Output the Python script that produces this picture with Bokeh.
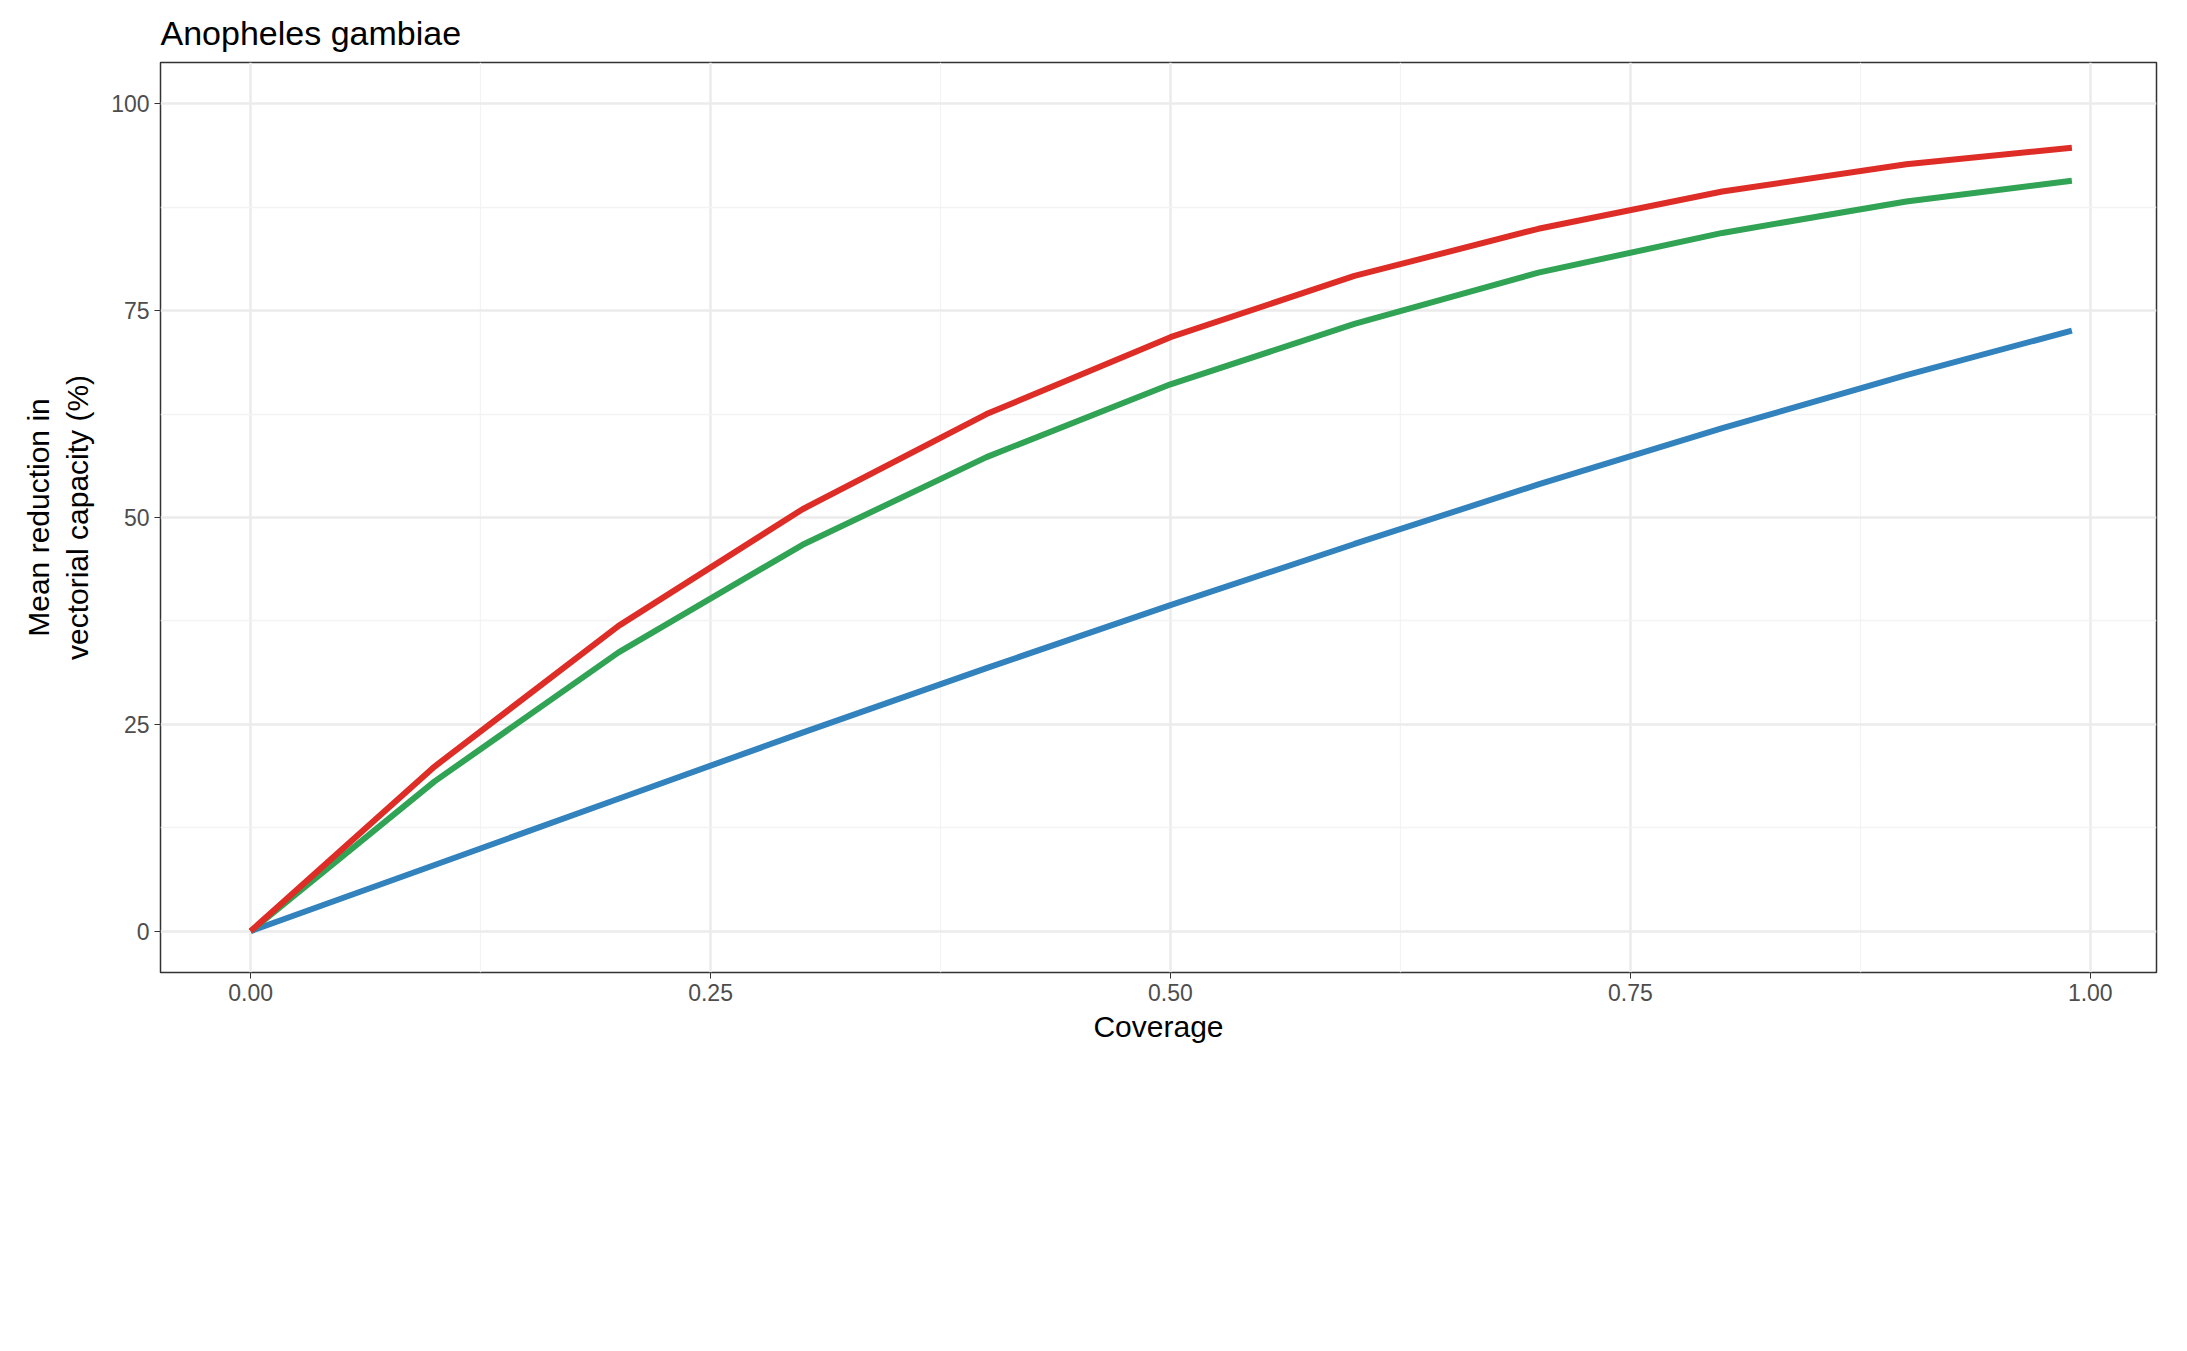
from bokeh.plotting import figure
from bokeh.models import Legend, LegendItem, FixedTicker, Range1d
from bokeh.embed import file_html
from bokeh.resources import INLINE

coverage = [0, 0.1, 0.2, 0.3, 0.4, 0.5, 0.6, 0.7, 0.8, 0.9, 0.99]
house_screening = [0, 8.0, 16.0, 24.0, 31.8, 39.4, 46.8, 54.0, 60.8, 67.2, 72.6]
irs = [0, 18.1, 33.7, 46.7, 57.3, 66.1, 73.4, 79.6, 84.4, 88.2, 90.7]
llins = [0, 19.9, 36.9, 51.0, 62.5, 71.8, 79.2, 84.9, 89.4, 92.7, 94.7]

FONT = "Liberation Sans"

p = figure(frame_width=1996, frame_height=910, output_backend="svg",
           toolbar_location=None, title="Anopheles gambiae",
           x_range=Range1d(-0.049, 1.036), y_range=Range1d(-5, 105),
           min_border_left=160, min_border_right=10, min_border_top=10,
           min_border_bottom=0)
p.title.text_font = FONT
p.title.text_font_size = "34px"
p.title.text_font_style = "normal"
p.title.text_color = "black"
p.title.offset = 0
p.title.standoff = 22

p.outline_line_color = "#333333"
p.outline_line_width = 1.5

p.xaxis.ticker = FixedTicker(ticks=[0, 0.25, 0.5, 0.75, 1.0],
                             minor_ticks=[0.125, 0.375, 0.625, 0.875])
p.yaxis.ticker = FixedTicker(ticks=[0, 25, 50, 75, 100],
                             minor_ticks=[12.5, 37.5, 62.5, 87.5])
p.xaxis.major_label_overrides = {0: "0.00", 0.25: "0.25", 0.5: "0.50", 0.75: "0.75", 1.0: "1.00"}
for ax in (p.xaxis, p.yaxis):
    ax.axis_line_color = None
    ax.major_tick_line_color = "#333333"
    ax.minor_tick_line_color = None
    ax.major_tick_out = 6
    ax.major_tick_in = 0
    ax.major_label_text_font = FONT
    ax.major_label_text_font_size = "23px"
    ax.major_label_text_color = "#4d4d4d"
    ax.axis_label_text_font = FONT
    ax.axis_label_text_font_size = "30px"
    ax.axis_label_text_font_style = "normal"
    ax.axis_label_text_color = "black"
p.xaxis.axis_label = "Coverage"
p.yaxis.axis_label = "Mean reduction in\nvectorial capacity (%)"
p.xaxis.axis_label_standoff = 6
p.yaxis.axis_label_standoff = 14

p.grid.grid_line_color = "#ebebeb"
p.grid.grid_line_width = 2.5
p.grid.minor_grid_line_color = "#f3f3f3"
p.grid.minor_grid_line_width = 1.3

r1 = p.line(coverage, house_screening, line_color="#3182bd", line_width=6)
r2 = p.line(coverage, irs, line_color="#31a354", line_width=6)
r3 = p.line(coverage, llins, line_color="#de2d26", line_width=6)

legend = Legend(items=[LegendItem(label="House screening", renderers=[r1]),
                       LegendItem(label="IRS", renderers=[r2]),
                       LegendItem(label="LLINs", renderers=[r3])],
                ncols=2, location="center", border_line_color=None,
                label_text_font=FONT, label_text_font_size="24px",
                glyph_width=56, glyph_height=40, label_height=40,
                spacing=50, label_standoff=28, margin=36, padding=0)
p.add_layout(legend, "below")

open("out.html", "w").write(file_html(p, INLINE))
